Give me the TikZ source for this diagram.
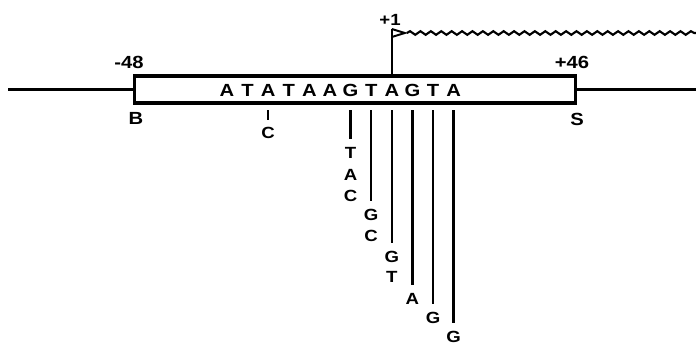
\documentclass[tikz,border=0pt]{standalone}
\usepackage{fontspec}
\setmainfont{Liberation Sans}[FakeStretch=1.15]
\usepackage{tikz}
\usetikzlibrary{positioning,decorations.pathmorphing}
\tikzset{base/.style={font=\bfseries\fontsize{12.5}{15}\selectfont,inner sep=0pt}}
\tikzset{lbl/.style={font=\bfseries\fontsize{11.5}{14}\selectfont,inner sep=0pt}}
\tikzset{seqbox/.style={draw,line width=2.2pt,minimum width=11cm,minimum height=0.675cm,inner sep=0pt}}
\tikzset{wave/.style={decorate,decoration={snake,amplitude=0.045cm,segment length=0.26cm}}}

\begin{document}
\begin{tikzpicture}[x=0.025cm,y=-0.025cm,line width=1.6pt]
    \useasboundingbox (0,0) rectangle (696,344);
    \node[seqbox] (box) at (355,89.5) {};
    \coordinate (lend) at (8,89.5);
    \coordinate (rend) at (696,89.5);
    \coordinate (top) at (0,110);
    \coordinate (flag) at (391.8,29);
    \coordinate (wend) at (696,33);

    % sequence in the box
    \node[base] (s1) at (227,90) {A};
    \node[base] (s2) at (247.6,90) {T};
    \node[base] (s3) at (268.2,90) {A};
    \node[base] (s4) at (288.8,90) {T};
    \node[base] (s5) at (309.4,90) {A};
    \node[base] (s6) at (330,90) {A};
    \node[base] (s7) at (350.6,90) {G};
    \node[base] (s8) at (371.2,90) {T};
    \node[base] (s9) at (391.8,90) {A};
    \node[base] (s10) at (412.4,90) {G};
    \node[base] (s11) at (433,90) {T};
    \node[base] (s12) at (453.6,90) {A};

    \node[base] (m48) at (129,62) {-48};
    \node[base] (p46) at (572,62) {+46};
    \node[base] (b) at (136,118) {B};
    \node[base] (s) at (577,119) {S};
    \node[lbl] (p1) at (390,20) {+1};

    % changes below the box
    \node[lbl] (c3) at (268.2,133) {C};
    \node[lbl] (t7a) at (350.6,153) {T};
    \node[lbl] (t7b) at (350.6,175) {A};
    \node[lbl] (t7c) at (350.6,196) {C};
    \node[lbl] (t8a) at (371.2,215) {G};
    \node[lbl] (t8b) at (371.2,236) {C};
    \node[lbl] (t9a) at (391.8,257) {G};
    \node[lbl] (t9b) at (391.8,277) {T};
    \node[lbl] (t10) at (412.4,299) {A};
    \node[lbl] (t11) at (433,318) {G};
    \node[lbl] (t12) at (453.6,337) {G};

    \draw (lend) -- (box.west);
    \draw (box.east) -- (rend);
    \draw (box.north -| flag) -- (flag);
    \draw [line width=1.4pt] (flag) -- ++(13,4) -- ++(-13,4);
    \draw [wave,line width=1.5pt] (flag) ++(15,4) -- (wend);

    \draw (c3 |- top) -- ([yshift=4.5pt]c3.north);
    \draw (t7a |- top) -- ([yshift=5pt]t7a.north);
    \draw (t8a |- top) -- ([yshift=5pt]t8a.north);
    \draw (t9a |- top) -- ([yshift=5pt]t9a.north);
    \draw (t10 |- top) -- ([yshift=5pt]t10.north);
    \draw (t11 |- top) -- ([yshift=5pt]t11.north);
    \draw (t12 |- top) -- ([yshift=5pt]t12.north);
\end{tikzpicture}
\end{document}
